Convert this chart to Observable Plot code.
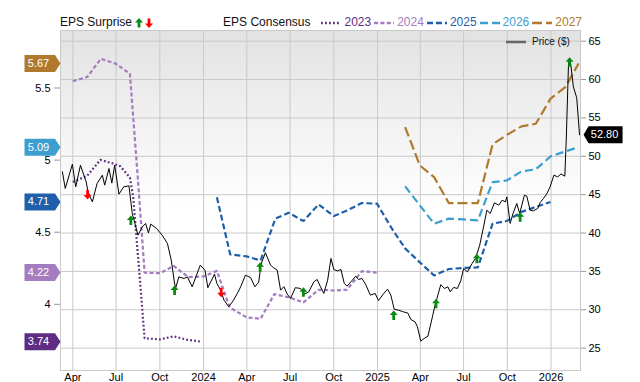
<!DOCTYPE html>
<html>
<head>
<meta charset="utf-8">
<script src="https://cdn.jsdelivr.net/npm/d3@7"></script>
<script src="https://cdn.jsdelivr.net/npm/@observablehq/plot@0.6"></script>
<style>
  body { margin: 0; background: #fff; font-family: "Liberation Sans", Arial, Helvetica, sans-serif; }
  #wrap { width: 640px; height: 382px; position: relative; overflow: hidden; }
  #legend { height: 29px; width: 582px; box-sizing: border-box; padding-left: 60px;
            display: flex; justify-content: space-between; align-items: flex-end;
            font-size: 12px; line-height: 13px; color: #111; }
  #legend .grp { display: flex; align-items: center; height: 13px; }
  #legend svg { display: block; }
  #priceLegend { position: absolute; left: 506px; top: 35px; height: 13px; line-height: 13px;
                 font-size: 10px; display: flex; align-items: center; color: #111; }
</style>
</head>
<body>
<div id="wrap">
  <div id="legend"></div>
  <div id="chart"></div>
  <div id="priceLegend"></div>
</div>
<script>
// ---------------- data ----------------
const priceSeries = [
["2023-03-10",47.97],["2023-03-16",45.81],["2023-03-31",48.97],["2023-04-07",46.02],["2023-04-17",48.84],["2023-04-29",46.67],["2023-05-03",45.33],["2023-05-12",44.06],["2023-05-22",46.46],["2023-06-02",47.54],["2023-06-07",46.24],["2023-06-16",48.41],["2023-06-22",46.50],["2023-06-28",48.84],["2023-07-07",45.07],["2023-07-17",46.02],["2023-07-28",46.15],["2023-08-04",42.55],["2023-08-16",39.72],["2023-08-25",40.80],["2023-09-01",41.25],["2023-09-07",40.02],["2023-09-12",41.16],["2023-09-24",40.60],["2023-10-06",39.72],["2023-10-17",38.64],["2023-10-25",36.47],["2023-10-31",33.86],["2023-11-03",32.78],["2023-11-10",34.29],["2023-11-21",34.08],["2023-11-28",34.29],["2023-12-08",32.99],["2023-12-25",35.81],
["2024-01-04",35.16],["2024-01-10",32.88],["2024-01-24",34.64],["2024-01-29",33.43],["2024-02-06",32.56],["2024-02-13",31.25],["2024-02-23",30.41],["2024-03-03",31.15],["2024-03-12",32.13],["2024-03-19",32.99],["2024-03-29",34.51],["2024-04-09",34.19],["2024-04-18",32.99],["2024-04-26",33.60],["2024-05-01",35.94],["2024-05-10",37.44],["2024-05-21",35.81],["2024-05-27",35.49],["2024-06-04",35.16],["2024-06-11",32.56],["2024-06-18",33.01],["2024-06-25",32.04],["2024-07-02",31.48],["2024-07-12",32.88],["2024-07-23",32.78],["2024-07-30",32.04],["2024-08-09",32.30],["2024-08-20",33.64],["2024-08-27",33.95],["2024-09-03",32.99],["2024-09-10",32.13],["2024-09-18",33.86],["2024-09-25",36.69],["2024-10-01",35.25],["2024-10-09",35.07],["2024-10-16",35.25],["2024-10-23",33.43],["2024-10-29",33.08],["2024-11-09",33.86],["2024-11-16",34.38],["2024-11-22",33.95],["2024-11-29",34.08],["2024-12-06",33.43],["2024-12-17",31.91],["2024-12-27",32.13],
["2025-01-03",31.19],["2025-01-14",32.13],["2025-01-22",32.69],["2025-01-29",31.91],["2025-02-05",30.08],["2025-02-14",29.95],["2025-02-23",29.76],["2025-03-06",29.56],["2025-03-12",28.74],["2025-03-21",28.43],["2025-03-26",27.78],["2025-04-02",25.91],["2025-04-09",26.26],["2025-04-17",26.56],["2025-04-27",29.23],["2025-05-02",30.60],["2025-05-14",33.27],["2025-05-22",32.78],["2025-05-29",32.99],["2025-06-03",32.34],["2025-06-10",32.91],["2025-06-18",32.78],["2025-06-25",33.77],["2025-07-01",35.38],["2025-07-09",34.94],["2025-07-19",36.04],["2025-07-26",36.69],["2025-08-04",38.42],["2025-08-12",40.80],["2025-08-19",42.98],["2025-08-26",42.55],["2025-09-04",43.93],["2025-09-13",43.63],["2025-09-20",44.28],["2025-09-27",44.06],["2025-09-30",44.71],["2025-10-07",41.25],["2025-10-13",42.55],["2025-10-21",43.85],["2025-10-27",42.55],["2025-11-06",44.93],["2025-11-11",44.80],["2025-11-18",42.98],["2025-11-25",42.89],["2025-12-04",43.20],["2025-12-09",43.96],["2025-12-16",44.50],["2025-12-23",45.10],["2025-12-30",46.02],
["2026-01-07",47.54],["2026-01-15",47.32],["2026-01-22",47.70],["2026-01-30",47.41],["2026-02-02",52.10],["2026-02-07",62.52],["2026-02-10",62.75],["2026-02-17",59.05],["2026-02-24",57.64],["2026-03-02",52.80]
];

const eps2023 = [["2023-04-01",4.848],["2023-05-01",4.891],["2023-05-29",5.002],["2023-06-23",4.978],["2023-07-10",4.957],["2023-07-30",4.879],["2023-08-06",4.743],["2023-08-30",3.764],["2023-10-02",3.757],["2023-10-30",3.778],["2023-11-27",3.755],["2023-12-29",3.74]];
const eps2024 = [["2023-04-01",5.548],["2023-05-01",5.576],["2023-05-30",5.703],["2023-06-30",5.669],["2023-07-30",5.599],["2023-08-15",4.906],["2023-08-30",4.219],["2023-10-02",4.216],["2023-10-30",4.266],["2023-11-30",4.189],["2024-01-01",4.193],["2024-01-29",4.232],["2024-02-25",3.978],["2024-04-01",3.909],["2024-04-30",3.900],["2024-05-29",4.071],["2024-07-01",4.046],["2024-07-29",4.013],["2024-08-30",4.101],["2024-10-01",4.096],["2024-10-29",4.101],["2024-11-29",4.230],["2024-12-31",4.22]];
const eps2025 = [["2024-01-29",4.743],["2024-02-26",4.346],["2024-04-01",4.332],["2024-04-30",4.304],["2024-05-31",4.594],["2024-06-28",4.635],["2024-07-29",4.577],["2024-08-30",4.693],["2024-10-01",4.612],["2024-10-29",4.651],["2024-11-29",4.702],["2024-12-31",4.698],["2025-01-31",4.526],["2025-02-28",4.388],["2025-03-31",4.291],["2025-04-30",4.200],["2025-05-31",4.245],["2025-06-30",4.252],["2025-07-31",4.256],["2025-08-31",4.559],["2025-09-30",4.578],["2025-10-31",4.641],["2025-11-30",4.675],["2025-12-31",4.71]];
const eps2026 = [["2025-02-28",4.818],["2025-03-31",4.686],["2025-04-30",4.559],["2025-05-31",4.594],["2025-06-30",4.589],["2025-07-31",4.582],["2025-08-31",4.847],["2025-09-30",4.859],["2025-10-31",4.922],["2025-11-30",4.936],["2025-12-31",5.026],["2026-01-31",5.06],["2026-02-28",5.09]];
const eps2027 = [["2025-02-28",5.229],["2025-03-31",4.963],["2025-04-30",4.882],["2025-05-31",4.702],["2025-06-30",4.702],["2025-07-31",4.702],["2025-08-31",5.109],["2025-09-30",5.175],["2025-10-31",5.234],["2025-11-30",5.252],["2025-12-31",5.426],["2026-01-31",5.506],["2026-02-28",5.67]];

const surpriseDates  = ["2023-05-02","2023-08-01","2023-11-01","2024-02-07","2024-04-29","2024-07-29","2025-02-04","2025-05-04","2025-07-29","2025-10-28","2026-02-09"];
const surprisePrices = [45.03,41.64,32.52,32.30,35.55,32.30,29.26,30.79,36.65,42.07,62.26];
const surpriseBeat   = [false,true,true,false,true,true,true,true,true,true,true];

const seriesNames  = ["2023","2024","2025","2026","2027"];
const seriesColors = ["#5e2d83","#a47cc0","#1f5faa","#3c9fd0","#b07a2e"];
const seriesDash   = ["1.8,2.2","4,2.4","6,3","8,4","10,4"];
const flagValues   = [5.67, 5.09, 4.71, 4.22, 3.74];
const flagColors   = ["#b07a2e","#3c9fd0","#1f5faa","#a47cc0","#5e2d83"];
const priceTicks   = [25,30,35,40,45,50,55,60,65];
const epsTicks     = [4, 4.5, 5, 5.5];
const lastPrice    = 52.80;

// ---------------- scales helpers ----------------
const parse = d3.utcParse("%Y-%m-%d");
const xDomain = [parse("2023-03-06"), parse("2026-03-04")];
const yDomain = [22.09, 66.39];
// secondary (EPS) axis relation: EPS 3.696 <-> $25, 18.79 $ per EPS unit
const epsToPrice = v => 25 + (v - 3.696) * 18.79;
const priceToEps = p => 3.696 + (p - 25) / 18.79;

const price = priceSeries.map(([d, v]) => ({date: parse(d), price: v}));
const epsSets = [eps2023, eps2024, eps2025, eps2026, eps2027].map(s => s.map(([d, v]) => ({date: parse(d), eps: v})));
const surprises = surpriseDates.map((d, i) => ({date: parse(d), price: surprisePrices[i], beat: surpriseBeat[i]}));
const flags = flagValues.map((v, i) => ({v, color: flagColors[i]}));
const lastDate = price[price.length - 1].date;

// ---------------- symbols ----------------
const upArrow = {draw(c) { c.moveTo(0,-5); c.lineTo(4,-0.5); c.lineTo(1.4,-0.5); c.lineTo(1.4,4.5); c.lineTo(-1.4,4.5); c.lineTo(-1.4,-0.5); c.lineTo(-4,-0.5); c.closePath(); }};
const downArrow = {draw(c) { c.moveTo(0,5); c.lineTo(4,0.5); c.lineTo(1.4,0.5); c.lineTo(1.4,-4.5); c.lineTo(-1.4,-4.5); c.lineTo(-1.4,0.5); c.lineTo(-4,0.5); c.closePath(); }};
const flagLeft = {draw(c) { c.moveTo(0,0); c.lineTo(-5.5,-8.5); c.lineTo(-36,-8.5); c.lineTo(-36,8.5); c.lineTo(-5.5,8.5); c.closePath(); }};
const flagRight = {draw(c) { c.moveTo(4,0); c.lineTo(9,-8.5); c.lineTo(43,-8.5); c.lineTo(43,8.5); c.lineTo(9,8.5); c.closePath(); }};

const quarter = d3.utcMonth.every(3);
const gridColor = "#c9c9c9";

const svg = Plot.plot({
  width: 640, height: 353,
  marginTop: 1, marginBottom: 12, marginLeft: 60, marginRight: 60,
  x: {type: "utc", domain: xDomain, label: null},
  y: {domain: yDomain, label: null},
  style: {fontFamily: '"Liberation Sans", Arial, Helvetica, sans-serif', fontSize: "11px", color: "#000", background: "transparent", overflow: "visible"},
  marks: [
    Plot.frame({fill: "url(#bgGrad)", stroke: null}),
    Plot.gridX({ticks: quarter, stroke: gridColor, strokeOpacity: 1}),
    Plot.gridY({ticks: priceTicks, stroke: gridColor, strokeOpacity: 1}),
    Plot.frame({stroke: gridColor}),
    Plot.axisX({ticks: quarter, tickSize: 0, tickPadding: 3, label: null,
      tickFormat: d => d.getUTCMonth() === 0 ? String(d.getUTCFullYear()) : d3.utcFormat("%b")(d)}),
    Plot.axisY({anchor: "right", ticks: priceTicks, tickSize: 5, tickPadding: 3, stroke: "#999", fill: "#000", label: null}),
    Plot.axisY({anchor: "left", ticks: epsTicks.map(epsToPrice), tickSize: 6, tickPadding: 4, stroke: "#999", fill: "#000", label: null,
      tickFormat: d => d3.format("~g")(+priceToEps(d).toFixed(2))}),
    ...epsSets.map((s, i) => Plot.line(s, {x: "date", y: d => epsToPrice(d.eps), stroke: seriesColors[i],
      strokeWidth: 2.2, strokeDasharray: seriesDash[i], strokeLinecap: "butt", strokeLinejoin: "miter"})),
    Plot.line(price, {x: "date", y: "price", stroke: "#000", strokeWidth: 1}),
    Plot.dot(surprises.filter(d => d.beat), {x: "date", y: "price", symbol: upArrow, fill: "#0b8a12", stroke: "none"}),
    Plot.dot(surprises.filter(d => !d.beat), {x: "date", y: "price", symbol: downArrow, fill: "#ff0000", stroke: "none"}),
    Plot.dot(flags, {x: () => xDomain[0], y: d => epsToPrice(d.v), symbol: flagLeft, fill: d => d.color, stroke: "none"}),
    Plot.text(flags, {x: () => xDomain[0], y: d => epsToPrice(d.v), text: d => d.v.toFixed(2), dx: -22, fill: "white", fontSize: 11, textAnchor: "middle"}),
    Plot.dot([lastPrice], {x: () => lastDate, y: d => d, symbol: flagRight, fill: "#000", stroke: "none"}),
    Plot.text([lastPrice], {x: () => lastDate, y: d => d, text: d => d.toFixed(2), dx: 25, fill: "white", fontSize: 11, textAnchor: "middle"})
  ]
});

// gradient background for the plot area
const defs = d3.select(svg).insert("defs", ":first-child");
const grad = defs.append("linearGradient").attr("id", "bgGrad").attr("x1", 0).attr("y1", 0).attr("x2", 0).attr("y2", 1);
grad.append("stop").attr("offset", "0%").attr("stop-color", "#e2e2e2");
grad.append("stop").attr("offset", "52%").attr("stop-color", "#ffffff");
grad.append("stop").attr("offset", "100%").attr("stop-color", "#ffffff");
document.getElementById("chart").appendChild(svg);

// ---------------- legends (HTML) ----------------
function swatch(color, dash) {
  return `<svg width="20" height="6" style="margin:0 3px"><line x1="0" y1="3" x2="20" y2="3" stroke="${color}" stroke-width="2.4" stroke-dasharray="${dash}"/></svg>`;
}
const arrowSvg = (up, color) => `<svg width="8" height="10" style="margin-left:${up ? 3 : 2}px"><path transform="translate(4,5)" d="${up ? "M0,-5L4,-0.5L1.4,-0.5L1.4,4.5L-1.4,4.5L-1.4,-0.5L-4,-0.5Z" : "M0,5L4,0.5L1.4,0.5L1.4,-4.5L-1.4,-4.5L-1.4,0.5L-4,0.5Z"}" fill="${color}"/></svg>`;
let left = `<div class="grp"><span>EPS Surprise</span>${arrowSvg(true, "#0b8a12")}${arrowSvg(false, "#ff0000")}</div>`;
let right = `<div class="grp"><span style="margin-right:8px">EPS Consensus</span>` +
  seriesNames.map((n, i) => `${swatch(seriesColors[i], seriesDash[i])}<span style="color:${seriesColors[i]}">${n}</span>`).join("") + `</div>`;
document.getElementById("legend").innerHTML = left + right;
document.getElementById("priceLegend").innerHTML =
  `<svg width="20" height="4" style="margin-right:6px"><line x1="0" y1="2" x2="20" y2="2" stroke="#666" stroke-width="2.5"/></svg><span>Price ($)</span>`;
</script>
</body>
</html>
